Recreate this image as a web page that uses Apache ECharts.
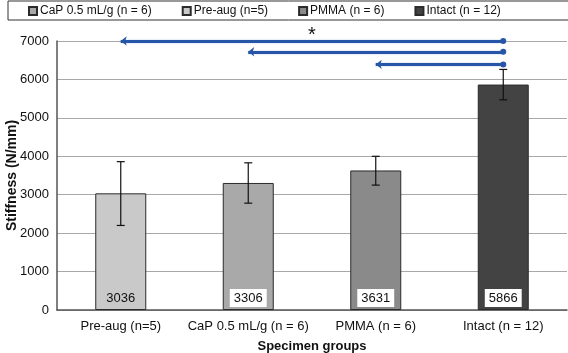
<!DOCTYPE html>
<html>
<head>
<meta charset="utf-8">
<script src="https://cdn.jsdelivr.net/npm/echarts@6/dist/echarts.min.js"></script>
<style>
html,body{margin:0;padding:0;background:#fff;}
#chart{width:568px;height:353px;}
</style>
</head>
<body>
<div id="chart"></div>
<script>
// groups along the x axis
const categories = ['Pre-aug (n=5)', 'CaP 0.5 mL/g (n = 6)', 'PMMA (n = 6)', 'Intact (n = 12)'];
// legend order differs from the axis order
const legendOrder = ['CaP 0.5 mL/g (n = 6)', 'Pre-aug (n=5)', 'PMMA (n = 6)', 'Intact (n = 12)'];
const stiffness = [3036, 3306, 3631, 5866];
const errLow = [2200, 2780, 3250, 5470];
const errHigh = [3860, 3830, 4000, 6260];
const barColors = ['#c9c9c9', '#a9a9a9', '#8a8a8a', '#434343'];
// significance arrows: from group index to Intact, at height
const sigFrom = [0, 1, 2];
const sigLevel = [7000, 6720, 6390];
const yTicks = [0, 1000, 2000, 3000, 4000, 5000, 6000, 7000];

const chart = echarts.init(document.getElementById('chart'));
const font = 'Liberation Sans, Arial, sans-serif';

let series = categories.map((name, i) => ({
    name: name,
    type: 'bar',
    stack: 'all',
    barWidth: '40%',
    data: categories.map((c, j) => j === i ? stiffness[i] : '-'),
    itemStyle: {
        color: barColors[i],
        borderColor: '#2b2b2b',
        borderWidth: 1
    },
    label: {
        show: true,
        position: 'insideBottom',
        distance: 3,
        color: '#111',
        fontFamily: font,
        fontSize: 13,
        backgroundColor: i === 0 ? 'transparent' : '#fff',
        padding: [3, 4, 2, 4]
    }
}));

// error bars
series.push({
    name: 'err',
    type: 'custom',
    z: 5,
    data: categories.map((c, i) => [i, errLow[i], errHigh[i]]),
    renderItem: function (params, api) {
        const lo = api.coord([api.value(0), api.value(1)]);
        const hi = api.coord([api.value(0), api.value(2)]);
        const w = 4;
        const st = {stroke: '#111', lineWidth: 1.2};
        return {
            type: 'group',
            children: [
                {type: 'line', shape: {x1: hi[0], y1: hi[1], x2: lo[0], y2: lo[1]}, style: st},
                {type: 'line', shape: {x1: hi[0] - w, y1: hi[1], x2: hi[0] + w, y2: hi[1]}, style: st},
                {type: 'line', shape: {x1: lo[0] - w, y1: lo[1], x2: lo[0] + w, y2: lo[1]}, style: st}
            ]
        };
    },
    markLine: {
        silent: true,
        symbol: ['arrow', 'circle'],
        symbolSize: [7, 6],
        lineStyle: {color: '#2756a8', width: 3, type: 'solid', shadowColor: 'rgba(39,86,168,0.35)', shadowBlur: 2},
        label: {show: false},
        data: sigFrom.map((f, k) => [
            {
                coord: [f, sigLevel[k]],
                label: k === 0 ? {show: true, position: 'middle', formatter: '*', color: '#111', fontSize: 20, fontFamily: font, distance: -4} : {show: false}
            },
            {coord: [3, sigLevel[k]]}
        ])
    }
});

chart.setOption({
    animation: false,
    textStyle: {fontFamily: font},
    legend: {
        data: legendOrder,
        left: 8,
        top: 1,
        width: 552,
        itemGap: 30,
        itemWidth: 8,
        itemHeight: 8,
        icon: 'rect',
        borderColor: '#333',
        borderWidth: 1,
        padding: [4, 73, 3, 20],
        textStyle: {fontSize: 12, color: '#111', fontFamily: font, padding: [0, 0, 0, -2]}
    },
    grid: {left: 57, right: 1, top: 41, bottom: 43, containLabel: false, outerBoundsMode: 'none'},
    xAxis: {
        type: 'category',
        data: categories,
        name: 'Specimen groups',
        nameLocation: 'middle',
        nameGap: 30,
        nameTextStyle: {fontWeight: 'bold', fontSize: 13, color: '#111'},
        axisTick: {show: false},
        axisLine: {lineStyle: {color: '#555', width: 1.5}},
        axisLabel: {color: '#111', fontSize: 13, margin: 10, interval: 0, hideOverlap: false}
    },
    yAxis: {
        type: 'value',
        min: yTicks[0],
        max: yTicks[yTicks.length - 1],
        interval: 1000,
        name: 'Stiffness (N/mm)',
        nameLocation: 'middle',
        nameGap: 38,
        nameMoveOverlap: false,
        nameTextStyle: {fontWeight: 'bold', fontSize: 14, color: '#111'},
        axisLine: {show: true, lineStyle: {color: '#555', width: 1.5}},
        axisTick: {show: false},
        axisLabel: {color: '#111', fontSize: 13, margin: 8, formatter: v => String(v)},
        splitLine: {lineStyle: {color: '#a8a8a8', width: 1.2}}
    },
    series: series
});
</script>
</body>
</html>
